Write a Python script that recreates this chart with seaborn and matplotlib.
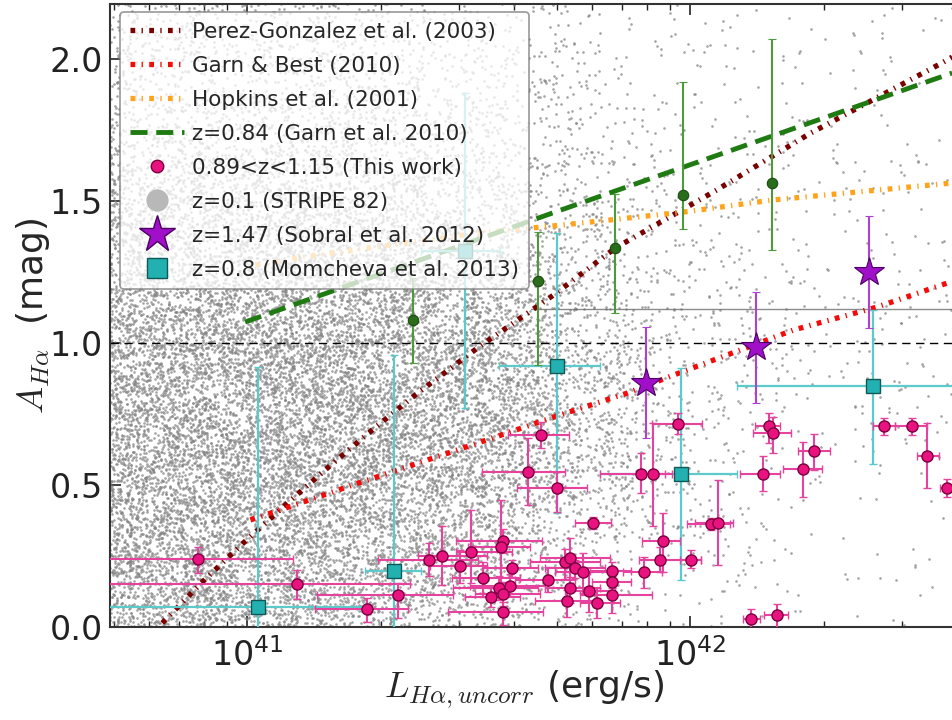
import numpy as np
import pandas as pd
import matplotlib
matplotlib.use("Agg")
import matplotlib.pyplot as plt
from matplotlib.lines import Line2D
from matplotlib.ticker import FormatStrFormatter
import seaborn as sns

# ---------------- data ----------------
# Perez-Gonzalez et al. (2003)
pg_logL = [40.808, 40.898, 40.991, 41.086, 41.183, 41.282, 41.379, 41.519, 41.691,
           41.831, 42.052, 42.271, 42.571, 42.591]
pg_A = [0.014, 0.158, 0.296, 0.430, 0.563, 0.694, 0.817, 0.982, 1.169,
        1.335, 1.532, 1.739, 1.989, 2.007]
# Garn & Best (2010)
gb_logL = [41.007, 41.126, 41.251, 41.372, 41.526, 41.691, 41.858, 41.962, 42.233, 42.422, 42.587]
gb_A = [0.377, 0.440, 0.507, 0.570, 0.651, 0.739, 0.824, 0.887, 1.046, 1.127, 1.215]
# Hopkins et al. (2001)
hop_logL = [41.018, 41.126, 41.519, 41.707, 41.984, 42.187, 42.587]
hop_A = [1.275, 1.303, 1.387, 1.415, 1.461, 1.504, 1.563]
# z=0.84 (Garn et al. 2010) relation
g10_logL = [40.995, 41.707, 42.591]
g10_A = [1.074, 1.468, 1.951]

# z=0.84 Garn et al. 2010 binned points
g10p_logL = [41.375, 41.657, 41.831, 41.984, 42.185]
g10p_A = [1.081, 1.218, 1.335, 1.521, 1.563]
g10p_A_lo = [0.930, 0.923, 1.106, 1.401, 1.327]
g10p_A_hi = [1.230, 1.391, 1.525, 1.919, 2.070]

# Sobral et al. 2012 (z=1.47)
sob_logL = [41.901, 42.149, 42.404]
sob_A = [0.859, 0.986, 1.250]
sob_A_lo = [0.665, 0.789, 1.053]
sob_A_hi = [1.056, 1.180, 1.447]

# Momcheva et al. 2013 (z=0.8)
mom_logL = [41.025, 41.332, 41.492, 41.698, 41.980, 42.413]
mom_logL_lo = [40.500, 41.266, 41.391, 41.567, 41.797, 42.106]
mom_logL_hi = [41.266, 41.391, 41.571, 41.797, 42.106, 42.800]
mom_A = [0.070, 0.197, 1.324, 0.919, 0.539, 0.849]
mom_A_lo = [-0.050, -0.050, 0.771, 0.401, 0.165, 0.574]
mom_A_hi = [0.915, 0.958, 1.880, 1.387, 0.912, 1.116]

# This work (0.89<z<1.15)
tw_logL = [40.889, 41.111, 41.271, 41.339, 41.409, 41.440, 41.479, 41.506, 41.576, 41.573,
           41.533, 41.598, 41.567, 41.594, 41.549, 41.576, 41.576, 41.679, 41.781, 41.716,
           41.729, 41.740, 41.758, 41.729, 41.722, 41.772, 41.790, 41.824, 41.824, 41.824,
           41.896, 41.932, 41.939, 42.002, 42.047, 42.063, 41.664, 41.634, 41.698, 41.889,
           41.916, 41.973, 42.163, 42.178, 42.187, 42.255, 42.280, 42.438, 42.501, 42.535,
           42.580, 42.138, 42.196]
tw_logL_lo = [40.500, 40.500, 41.153, 41.158, 41.296, 41.386, 41.413, 41.470, 41.470, 41.497,
              41.463, 41.533, 41.465, 41.503, 41.492, 41.515, 41.454, 41.605, 41.740, 41.639,
              41.661, 41.673, 41.695, 41.673, 41.650, 41.718, 41.752, 41.774, 41.779, 41.752,
              41.849, 41.883, 41.892, 41.977, 41.993, 42.011, 41.589, 41.530, 41.609, 41.797,
              41.887, 41.914, 42.113, 42.147, 42.142, 42.210, 42.244, 42.413, 42.463, 42.512,
              42.564, 42.120, 42.167]
tw_logL_hi = [41.104, 41.368, 41.363, 41.465, 41.520, 41.542, 41.542, 41.598, 41.666, 41.639,
              41.616, 41.655, 41.655, 41.673, 41.616, 41.661, 41.668, 41.740, 41.822, 41.797,
              41.819, 41.808, 41.819, 41.797, 41.786, 41.831, 41.842, 41.865, 41.865, 41.914,
              41.937, 42.023, 41.977, 42.023, 42.090, 42.097, 41.725, 41.716, 41.767, 41.959,
              41.943, 42.027, 42.203, 42.203, 42.228, 42.298, 42.316, 42.463, 42.535, 42.562,
              42.600, 42.158, 42.221]
tw_A = [0.239, 0.151, 0.063, 0.113, 0.236, 0.250, 0.215, 0.264, 0.303, 0.282,
        0.173, 0.208, 0.137, 0.144, 0.106, 0.116, 0.053, 0.165, 0.366, 0.229,
        0.243, 0.208, 0.194, 0.137, 0.092, 0.127, 0.085, 0.197, 0.158, 0.113,
        0.194, 0.236, 0.303, 0.236, 0.363, 0.366, 0.676, 0.546, 0.489, 0.539,
        0.539, 0.715, 0.539, 0.708, 0.683, 0.556, 0.620, 0.708, 0.708, 0.602,
        0.489, 0.028, 0.042]
tw_A_lo = [0.190, 0.099, 0.018, 0.032, 0.180, 0.148, 0.155, 0.155, 0.261, 0.155,
           0.106, 0.176, 0.095, 0.109, 0.070, 0.074, 0.007, 0.123, 0.345, 0.169,
           0.176, 0.173, 0.120, 0.085, 0.035, 0.053, 0.032, 0.165, 0.137, 0.049,
           0.137, 0.194, 0.194, 0.208, 0.340, 0.218, 0.630, 0.430, 0.405, 0.472,
           0.356, 0.680, 0.479, 0.648, 0.613, 0.458, 0.553, 0.676, 0.676, 0.489,
           0.458, -0.020, -0.020]
tw_A_hi = [0.282, 0.201, 0.102, 0.155, 0.296, 0.356, 0.271, 0.412, 0.345, 0.447,
           0.229, 0.236, 0.180, 0.187, 0.137, 0.158, 0.088, 0.211, 0.387, 0.275,
           0.313, 0.236, 0.261, 0.194, 0.130, 0.194, 0.137, 0.229, 0.180, 0.148,
           0.246, 0.282, 0.401, 0.271, 0.385, 0.518, 0.722, 0.665, 0.546, 0.613,
           0.718, 0.754, 0.602, 0.754, 0.739, 0.651, 0.680, 0.736, 0.736, 0.718,
           0.521, 0.063, 0.081]

# STRIPE 82 (z=0.1) cloud: relative dot density
cloud_logL_nodes = [40.69, 40.9, 41.1, 41.3, 41.5, 41.7, 41.9, 42.1, 42.3, 42.65]
cloud_A_nodes = [0.0, 0.25, 0.5, 0.75, 1.0, 1.25, 1.5, 1.75, 2.0, 2.2]
cloud_density = [
    [0.80, 0.80, 0.70, 0.50, 0.30, 0.12, 0.04, 0.020, 0.010, 0.010],
    [0.90, 0.90, 0.85, 0.70, 0.50, 0.22, 0.07, 0.030, 0.015, 0.010],
    [0.95, 0.95, 0.95, 0.90, 0.75, 0.40, 0.12, 0.050, 0.020, 0.015],
    [0.95, 1.00, 1.00, 1.00, 0.85, 0.50, 0.17, 0.060, 0.030, 0.020],
    [0.90, 0.95, 1.00, 1.00, 0.80, 0.45, 0.17, 0.070, 0.035, 0.025],
    [0.75, 0.80, 0.80, 0.75, 0.60, 0.30, 0.12, 0.050, 0.030, 0.025],
    [0.50, 0.55, 0.55, 0.50, 0.40, 0.20, 0.08, 0.040, 0.025, 0.020],
    [0.35, 0.35, 0.35, 0.30, 0.25, 0.13, 0.06, 0.030, 0.020, 0.015],
    [0.25, 0.25, 0.25, 0.20, 0.16, 0.09, 0.04, 0.025, 0.015, 0.010],
    [0.20, 0.20, 0.20, 0.15, 0.12, 0.07, 0.03, 0.020, 0.010, 0.010],
]
cloud_candidates = 60000
# saturated STRIPE 82 values (thin grey line)
sat_logL = [41.64, 42.62]
sat_A = [1.12, 1.12]

legend_labels = ["Perez-Gonzalez et al. (2003)", "Garn & Best (2010)", "Hopkins et al. (2001)",
                 "z=0.84 (Garn et al. 2010)", "0.89<z<1.15 (This work)", "z=0.1 (STRIPE 82)",
                 "z=1.47 (Sobral et al. 2012)", "z=0.8 (Momcheva et al. 2013)"]


# ---------------- helpers ----------------
def hash_uniform(n, stream):
    # deterministic integer hash (splitmix64) -> uniform [0, 1) texture coordinates
    with np.errstate(over="ignore"):
        z = (np.arange(n, dtype=np.uint64) + np.uint64(stream) * np.uint64(0x632BE59BD9B4E019)) \
            * np.uint64(0x9E3779B97F4A7C15)
        z = (z ^ (z >> np.uint64(30))) * np.uint64(0xBF58476D1CE4E5B9)
        z = (z ^ (z >> np.uint64(27))) * np.uint64(0x94D049BB133111EB)
        z = z ^ (z >> np.uint64(31))
    return (z >> np.uint64(11)).astype(np.float64) / float(2 ** 53)


def bilinear(xn, yn, grid, x, y):
    xn = np.asarray(xn); yn = np.asarray(yn); g = np.asarray(grid)
    ix = np.clip(np.searchsorted(xn, x) - 1, 0, len(xn) - 2)
    iy = np.clip(np.searchsorted(yn, y) - 1, 0, len(yn) - 2)
    tx = (x - xn[ix]) / (xn[ix + 1] - xn[ix])
    ty = (y - yn[iy]) / (yn[iy + 1] - yn[iy])
    return (g[iy, ix] * (1 - tx) * (1 - ty) + g[iy, ix + 1] * tx * (1 - ty)
            + g[iy + 1, ix] * (1 - tx) * ty + g[iy + 1, ix + 1] * tx * ty)


def L(v):
    return 10.0 ** np.asarray(v, dtype=float)


# ---------------- style ----------------
sns.set_theme(style="ticks")
plt.rcParams["font.family"] = ["DejaVu Sans"]
plt.rcParams["mathtext.fontset"] = "cm"

fig = plt.figure(figsize=(9.52, 7.2), dpi=100)
ax = fig.add_axes([110 / 952, 93 / 720, 855 / 952, 623 / 720])
ax.set_xscale("log")
ax.set_xlim(10 ** 40.69, 10 ** 42.62)
ax.set_ylim(0, 2.194)

# cloud
hx = hash_uniform(cloud_candidates, 1)
hy = hash_uniform(cloud_candidates, 2)
hz = hash_uniform(cloud_candidates, 3)
cx = cloud_logL_nodes[0] + hx * (cloud_logL_nodes[-1] - cloud_logL_nodes[0])
cy = hy * 2.2
keep = hz < bilinear(cloud_logL_nodes, cloud_A_nodes, cloud_density, cx, cy)
cloud = pd.DataFrame({"L": L(cx[keep]), "A": cy[keep]})
sns.scatterplot(data=cloud, x="L", y="A", ax=ax, s=3.5, color="#858585", alpha=0.75,
                linewidth=0, legend=False, zorder=1)

sns.lineplot(x=L(sat_logL), y=sat_A, ax=ax, color="#6e6e6e", lw=1.0, alpha=0.8,
             estimator=None, sort=False, zorder=2)
ax.axhline(1.0, color="black", lw=1.0, dashes=(6, 4), zorder=2)

dashdot = (0, (0.9, 1.2, 0.25, 1.2))
LW = 3.8
sns.lineplot(x=L(pg_logL), y=pg_A, ax=ax, color="#7a0000", lw=LW, linestyle=dashdot,
             estimator=None, sort=False, zorder=3)
sns.lineplot(x=L(gb_logL), y=gb_A, ax=ax, color="#f50a0a", lw=LW, linestyle=dashdot,
             estimator=None, sort=False, zorder=3)
sns.lineplot(x=L(hop_logL), y=hop_A, ax=ax, color="#ffa31a", lw=LW, linestyle=dashdot,
             estimator=None, sort=False, zorder=3)
sns.lineplot(x=L(g10_logL), y=g10_A, ax=ax, color="#1f7a12", lw=3.5, linestyle=(0, (3.5, 1.8)),
             estimator=None, sort=False, zorder=3)

# Momcheva squares
ml = L(mom_logL)
ax.errorbar(ml, mom_A,
            xerr=[ml - L(mom_logL_lo), L(mom_logL_hi) - ml],
            yerr=[np.array(mom_A) - np.array(mom_A_lo), np.array(mom_A_hi) - np.array(mom_A)],
            fmt="s", ms=10, mfc="#22b0b0", mec="#105858", mew=1.0,
            ecolor="#5ccaca", elinewidth=1.6, capsize=3, capthick=1.2, zorder=4)

# Garn 2010 points
gl = L(g10p_logL)
ax.errorbar(gl, g10p_A,
            yerr=[np.array(g10p_A) - np.array(g10p_A_lo), np.array(g10p_A_hi) - np.array(g10p_A)],
            fmt="o", ms=7.5, mfc="#2a6e1c", mec="#1a4a10", mew=0.8,
            ecolor="#4c9a3c", elinewidth=1.5, capsize=3, capthick=1.2, zorder=4)

# This work
tl = L(tw_logL)
ax.errorbar(tl, tw_A,
            xerr=[tl - L(tw_logL_lo), L(tw_logL_hi) - tl],
            yerr=[np.array(tw_A) - np.array(tw_A_lo), np.array(tw_A_hi) - np.array(tw_A)],
            fmt="o", ms=8, mfc="#e8137f", mec="#7a0040", mew=1.0,
            ecolor="#e6439e", elinewidth=1.5, capsize=3, capthick=1.2, zorder=5)

# Sobral stars
sl = L(sob_logL)
ax.errorbar(sl, sob_A,
            yerr=[np.array(sob_A) - np.array(sob_A_lo), np.array(sob_A_hi) - np.array(sob_A)],
            fmt="*", ms=22, mfc="#a010c8", mec="#4a0060", mew=0.8,
            ecolor="#b040d0", elinewidth=1.5, capsize=3, capthick=1.2, zorder=6)

# axes styling
ax.set_yticks([0.0, 0.5, 1.0, 1.5, 2.0])
ax.yaxis.set_major_formatter(FormatStrFormatter("%.1f"))
ax.tick_params(which="both", direction="in", top=True, right=True, colors="#222222")
ax.tick_params(which="major", length=8, width=1.2, labelsize=24)
ax.tick_params(axis="y", which="major", pad=5)
ax.tick_params(axis="x", which="major", pad=8)
ax.tick_params(which="minor", length=4, width=1.0)
for sp in ax.spines.values():
    sp.set_linewidth(1.5)
    sp.set_color("#333333")
ax.set_xlabel(r"$L_{H\alpha,uncorr}$ (erg/s)", fontsize=26)
ax.xaxis.set_label_coords(0.484, -0.066)
ax.set_ylabel(r"$A_{H\alpha}$  (mag)", fontsize=26)
ax.yaxis.set_label_coords(-0.068, 0.5)

handles = [
    Line2D([], [], color="#7a0000", lw=LW, linestyle=dashdot),
    Line2D([], [], color="#f50a0a", lw=LW, linestyle=dashdot),
    Line2D([], [], color="#ffa31a", lw=LW, linestyle=dashdot),
    Line2D([], [], color="#1f7a12", lw=3.5, linestyle=(0, (3.5, 1.8))),
    Line2D([], [], ls="none", marker="o", ms=9, mfc="#e8137f", mec="#7a0040"),
    Line2D([], [], ls="none", marker="o", ms=15, mfc="#b8b8b8", mec="#b8b8b8"),
    Line2D([], [], ls="none", marker="*", ms=28, mfc="#a010c8", mec="#4a0060"),
    Line2D([], [], ls="none", marker="s", ms=15, mfc="#22b0b0", mec="#105858"),
]
leg = ax.legend(handles, legend_labels, loc="upper left", bbox_to_anchor=(0.0117, 0.987),
                borderaxespad=0, fontsize=15.5, handlelength=2.5, labelspacing=0.65,
                frameon=True, fancybox=True, framealpha=0.75, edgecolor="#777777",
                borderpad=0.45, handletextpad=0.4)
leg.get_frame().set_linewidth(1.2)
leg.set_zorder(10)

fig.savefig("out.png", dpi=100)
